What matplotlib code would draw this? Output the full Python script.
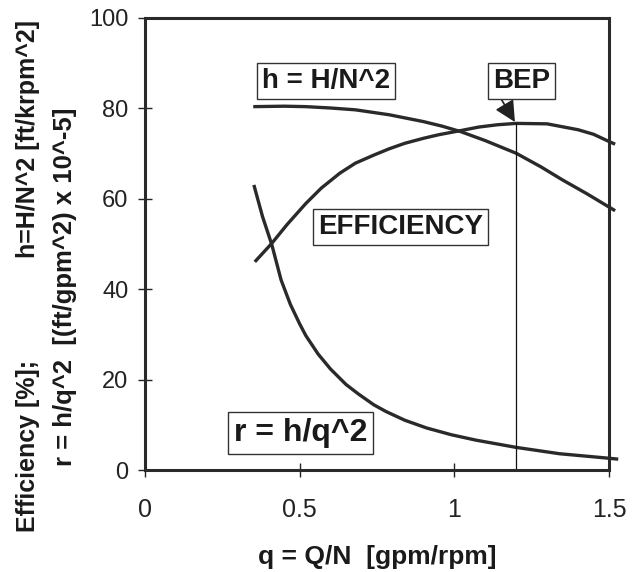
import matplotlib
matplotlib.use("Agg")
import matplotlib.pyplot as plt

plt.rcParams["font.family"] = ["Liberation Sans", "DejaVu Sans"]

# ---------------- data ----------------
q_h = [0.35, 0.45, 0.52, 0.60, 0.68, 0.79, 0.90, 0.96, 1.02, 1.10, 1.20, 1.28, 1.35, 1.43, 1.52]
h_vals = [80.3, 80.4, 80.3, 80.0, 79.6, 78.5, 77.0, 76.0, 74.8, 72.8, 70.0, 67.0, 64.1, 61.0, 57.3]

q_eff = [0.355, 0.41, 0.46, 0.52, 0.57, 0.63, 0.68, 0.74, 0.79, 0.84, 0.90, 0.95,
         1.02, 1.08, 1.14, 1.20, 1.30, 1.40, 1.45, 1.50, 1.52]
eff_vals = [46.0, 50.1, 54.3, 58.9, 62.3, 65.6, 67.8, 69.6, 71.0, 72.2, 73.3, 74.1,
            75.0, 75.8, 76.3, 76.6, 76.5, 75.2, 74.2, 72.6, 72.0]

q_r = [0.352, 0.38, 0.41, 0.44, 0.47, 0.50, 0.52, 0.56, 0.60, 0.65, 0.69, 0.74, 0.78,
       0.84, 0.91, 0.99, 1.07, 1.20, 1.34, 1.50, 1.53]
r_vals = [63.0, 56.0, 49.8, 42.0, 36.6, 32.3, 29.7, 25.6, 22.3, 18.9, 16.8, 14.4, 12.9,
          11.0, 9.3, 7.8, 6.6, 5.0, 3.6, 2.6, 2.4]

bep_q = 1.2
bep_eff = 76.6

x_ticks = [0, 0.5, 1, 1.5]
x_tick_labels = ["0", "0.5", "1", "1.5"]
y_ticks = [0, 20, 40, 60, 80, 100]

# ---------------- figure ----------------
fig = plt.figure(figsize=(6.41, 5.72), dpi=100)
ax = fig.add_axes([0.2262, 0.1783, 0.7238, 0.7911])

line_color = "#2a2a2a"
for xs, ys in [(q_h, h_vals), (q_eff, eff_vals), (q_r, r_vals)]:
    ax.plot(xs, ys, color=line_color, lw=2.4, solid_capstyle="butt",
            solid_joinstyle="round", clip_on=False)

# BEP marker line and arrow
ax.plot([bep_q, bep_q], [0, bep_eff], color="#111111", lw=0.9)
ax.annotate("", xy=(bep_q - 0.004, bep_eff + 0.3), xytext=(1.14, 83.3),
            arrowprops=dict(arrowstyle="-|>", color="#222222", lw=1.2,
                            mutation_scale=32, shrinkA=0, shrinkB=0))

box = dict(boxstyle="square,pad=0.18", facecolor="white", edgecolor="#333333", lw=1.0)
ax.text(0.585, 86.0, "h = H/N^2", fontsize=20, fontweight="bold", color="#1a1a1a",
        ha="center", va="center", bbox=box)
ax.text(1.218, 85.9, "BEP", fontsize=20, fontweight="bold", color="#1a1a1a",
        ha="center", va="center", bbox=box)
ax.text(0.827, 53.8, "EFFICIENCY", fontsize=20, fontweight="bold", color="#1a1a1a",
        ha="center", va="center", bbox=box)
ax.text(0.502, 8.2, "r = h/q^2", fontsize=23, fontweight="bold", color="#1a1a1a",
        ha="center", va="center", bbox=box)

ax.set_xlim(0, 1.5)
ax.set_ylim(0, 100)
ax.set_xticks(x_ticks)
ax.set_xticklabels(x_tick_labels)
ax.set_yticks(y_ticks)
ax.tick_params(axis="both", direction="inout", length=10, width=1.0, colors="#222222")
ax.tick_params(axis="x", labelsize=18, pad=15)
ax.tick_params(axis="y", labelsize=17, pad=7)
for s in ax.spines.values():
    s.set_linewidth(2.2)
    s.set_color("#2a2a2a")

ax.set_xlabel("q = Q/N  [gpm/rpm]", fontsize=19, fontweight="bold", color="#1a1a1a", labelpad=17)

# two-line y label, placed piecewise as in the original
fig.text(28 / 641, 1 - 532 / 572, "Efficiency [%];", rotation=90, fontsize=18,
         fontweight="bold", color="#1a1a1a", ha="center", va="bottom")
fig.text(28 / 641, 1 - 20 / 572, "h=H/N^2 [ft/krpm^2]", rotation=90, fontsize=18,
         fontweight="bold", color="#1a1a1a", ha="center", va="top")
fig.text(65 / 641, 1 - 466 / 572, "r = h/q^2  [(ft/gpm^2) x 10^-5]", rotation=90,
         fontsize=18.5, fontweight="bold", color="#1a1a1a", ha="center", va="bottom")

fig.savefig("out.png", dpi=100)
